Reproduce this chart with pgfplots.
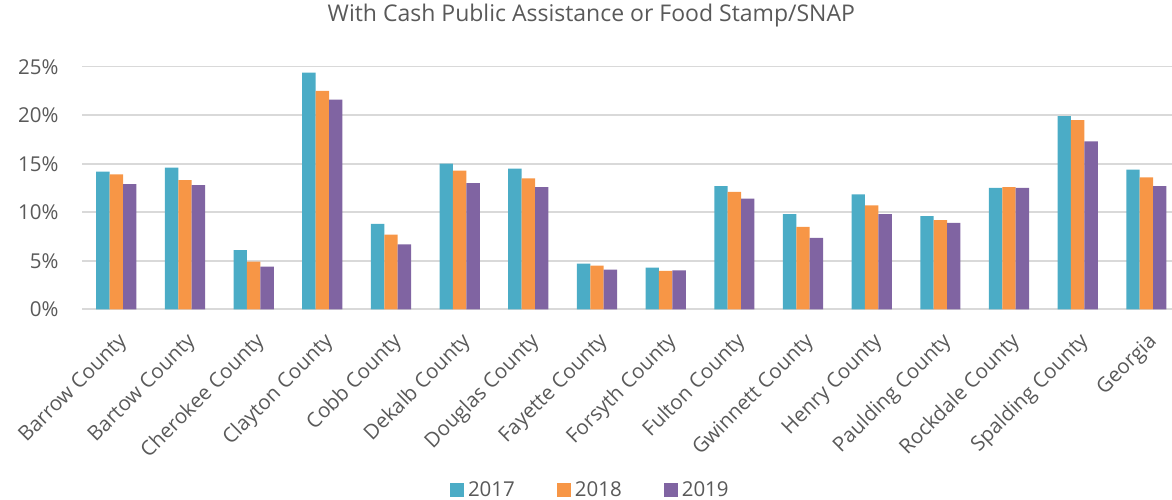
\documentclass[border=0pt]{standalone}
\usepackage{pgfplots}
\pgfplotsset{compat=1.18}
\usepackage{fontspec}
\setmainfont{Open Sans}
\definecolor{cA}{HTML}{4BACC6}
\definecolor{cB}{HTML}{F79646}
\definecolor{cC}{HTML}{8064A2}
\definecolor{txt}{HTML}{595959}
\definecolor{grd}{HTML}{D9D9D9}
\begin{document}
\begin{tikzpicture}
\useasboundingbox (0,0) rectangle (1172pt,500pt);
\begin{axis}[
  at={(82pt,190.7pt)}, anchor=south west,
  width=1098.7pt, height=242.6pt, scale only axis,
  ybar=0pt, bar width=13.4pt,
  xmin=-0.5, xmax=15.5, ymin=0, ymax=25,
  xtick=data,
  xticklabels={Barrow County,Bartow County,Cherokee County,Clayton County,Cobb County,Dekalb County,Douglas County,Fayette County,Forsyth County,Fulton County,Gwinnett County,Henry County,Paulding County,Rockdale County,Spalding County,Georgia},
  ytick={0,5,10,15,20,25},
  yticklabels={0\%,5\%,10\%,15\%,20\%,25\%},
  major tick length=0pt,
  axis line style={draw=none},
  ymajorgrids, grid style={grd, line width=1.6pt},
  tick label style={font=\fontsize{20.5}{24}\selectfont, text=txt},
  xticklabel style={xshift=10pt, yshift=-27pt, rotate=45, anchor=east},
  yticklabel style={xshift=-20pt},
  title={With Cash Public Assistance or Food Stamp/SNAP},
  title style={font=\fontsize{23}{27}\selectfont, text=txt, at={(0.5,1)}, anchor=center, yshift=45pt, xshift=-40pt},
  legend columns=3,
  legend style={draw=none, at={(0.5,0)}, anchor=center, yshift=-181pt, xshift=-41pt, font=\fontsize{20.5}{24}\selectfont, text=txt,
    /tikz/every even column/.append style={column sep=40pt},
    /tikz/every odd column/.append style={column sep=2pt}},
  legend image code/.code={\fill[#1] (0pt,-7pt) rectangle (14pt,7pt);},
]
\addplot[fill=cA, draw=none] coordinates {(0,14.2)(1,14.6)(2,6.1)(3,24.4)(4,8.8)(5,15.0)(6,14.5)(7,4.7)(8,4.3)(9,12.7)(10,9.8)(11,11.85)(12,9.6)(13,12.5)(14,19.9)(15,14.4)};
\addplot[fill=cB, draw=none] coordinates {(0,13.9)(1,13.3)(2,4.9)(3,22.5)(4,7.7)(5,14.3)(6,13.5)(7,4.5)(8,3.95)(9,12.1)(10,8.5)(11,10.7)(12,9.2)(13,12.6)(14,19.5)(15,13.6)};
\addplot[fill=cC, draw=none] coordinates {(0,12.9)(1,12.8)(2,4.4)(3,21.6)(4,6.7)(5,13.0)(6,12.6)(7,4.1)(8,4.0)(9,11.4)(10,7.35)(11,9.8)(12,8.9)(13,12.5)(14,17.3)(15,12.7)};
\legend{2017,2018,2019}
\end{axis}
\end{tikzpicture}
\end{document}
